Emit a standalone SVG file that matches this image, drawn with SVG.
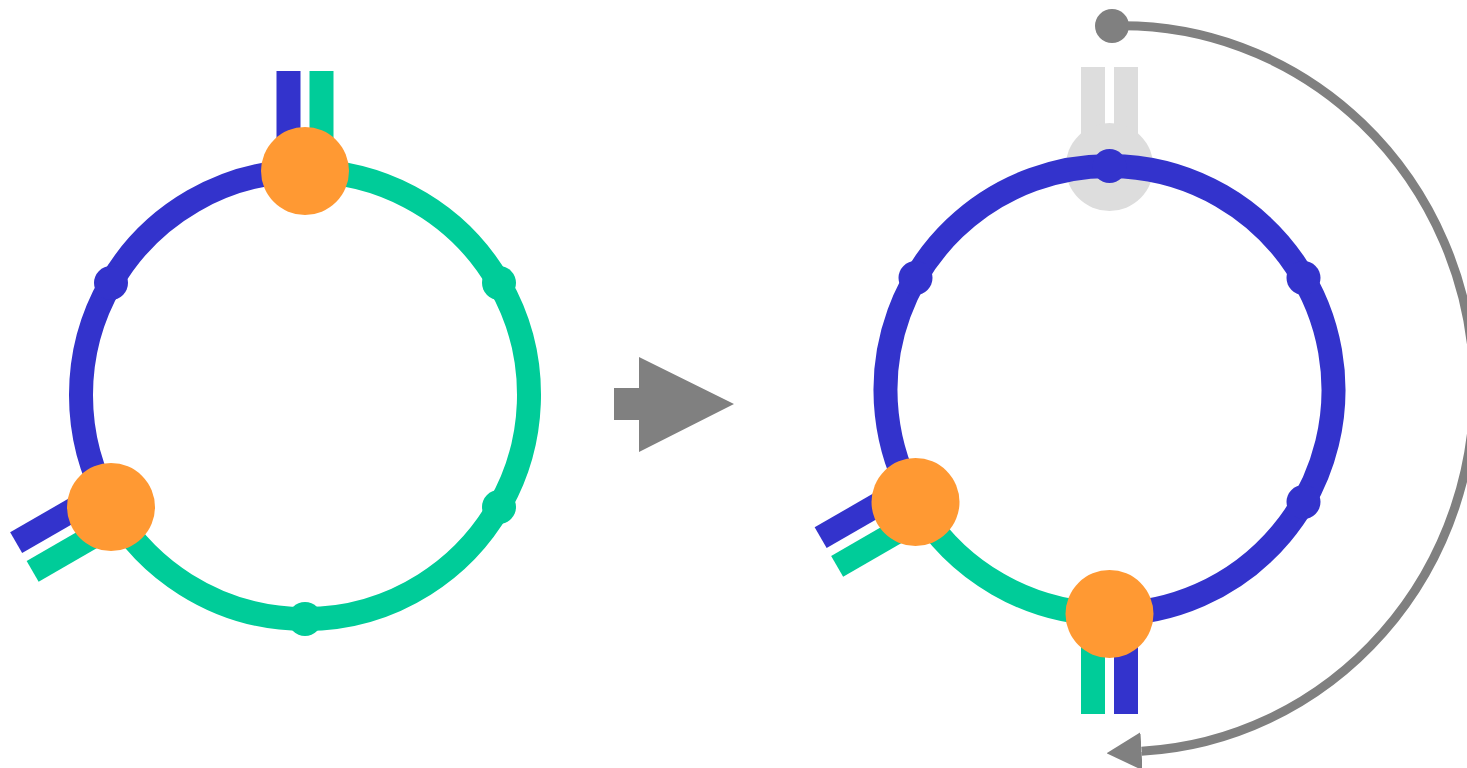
<svg xmlns="http://www.w3.org/2000/svg" width="1467" height="768" viewBox="0 0 1467 768">
  <style>
    .ring { fill: none; stroke-width: 24; stroke-linecap: butt; }
    .tab { fill: none; stroke-width: 24; stroke-linecap: butt; }
    .blue { stroke: #3333CC; }
    .green { stroke: #00CC99; }
    .ghost { stroke: #DDDDDD; }
    .dot-blue { fill: #3333CC; }
    .dot-green { fill: #00CC99; }
    .node { fill: #FF9933; }
    .ghost-node { fill: #DDDDDD; }
    .conn { fill: none; stroke: #808080; stroke-width: 9; }
  </style>
  <defs>
    <marker id="arrowhead" markerUnits="userSpaceOnUse" markerWidth="35" markerHeight="38" viewBox="0 0 35 38" refX="0" refY="19" orient="auto">
      <path d="M0 0 L35 19 L0 38 Z" fill="#808080"/>
    </marker>
  </defs>
  <rect width="1467" height="768" fill="#FFFFFF"/>

  <!-- Left circle -->
  <g id="left-ring">
    <line class="tab blue" x1="288.5" y1="171" x2="288.5" y2="71"/>
    <line class="tab green" x1="321.5" y1="171" x2="321.5" y2="71"/>
    <line class="tab blue" x1="102.75" y1="492.71" x2="16.15" y2="542.71"/>
    <line class="tab green" x1="119.25" y1="521.29" x2="32.65" y2="571.29"/>
    <path class="ring blue" d="M111 507 A224 224 0 0 1 305 171"/>
    <path class="ring green" d="M305 171 A224 224 0 1 1 111 507"/>
    <circle class="dot-blue" cx="111" cy="283" r="17"/>
    <circle class="dot-green" cx="499" cy="283" r="17"/>
    <circle class="dot-green" cx="499" cy="507" r="17"/>
    <circle class="dot-green" cx="305" cy="619" r="17"/>
  </g>
  <g id="left-node-top">
    <circle class="node" cx="305" cy="171" r="44"/>
  </g>
  <g id="left-node-bottom">
    <circle class="node" cx="111" cy="507" r="44"/>
  </g>

  <!-- Transition arrow -->
  <g id="transition-arrow">
    <polygon points="614,388 639,388 639,357 734,404 639,452 639,420 614,420" fill="#808080"/>
  </g>

  <!-- Right circle -->
  <g id="ghost-node">
    <line class="tab ghost" x1="1093" y1="167" x2="1093" y2="67"/>
    <line class="tab ghost" x1="1126" y1="167" x2="1126" y2="67"/>
    <circle class="ghost-node" cx="1109.5" cy="167" r="44"/>
  </g>
  <g id="right-ring">
    <line class="tab green" x1="1093" y1="614" x2="1093" y2="714"/>
    <line class="tab blue" x1="1126" y1="614" x2="1126" y2="714"/>
    <line class="tab blue" x1="907.25" y1="487.71" x2="820.65" y2="537.71"/>
    <line class="tab green" x1="923.75" y1="516.29" x2="837.15" y2="566.29"/>
    <path class="ring green" d="M1109.5 614 A224 224 0 0 1 915.5 502"/>
    <path class="ring blue" d="M915.5 502 A224 224 0 1 1 1109.5 614"/>
    <circle class="dot-blue" cx="915.5" cy="278" r="17"/>
    <circle class="dot-blue" cx="1109.5" cy="166" r="17"/>
    <circle class="dot-blue" cx="1303.5" cy="278" r="17"/>
    <circle class="dot-blue" cx="1303.5" cy="502" r="17"/>
  </g>
  <g id="right-node-bottom">
    <circle class="node" cx="1109.5" cy="614" r="44"/>
  </g>
  <g id="right-node-left">
    <circle class="node" cx="915.5" cy="502" r="44"/>
  </g>

  <!-- Connector -->
  <g id="connectors">
    <circle cx="1112" cy="26" r="17" fill="#808080"/>
    <path class="conn" d="M1112 26 A352 363 0 0 1 1141.5 751.3" marker-end="url(#arrowhead)"/>
  </g>
</svg>
